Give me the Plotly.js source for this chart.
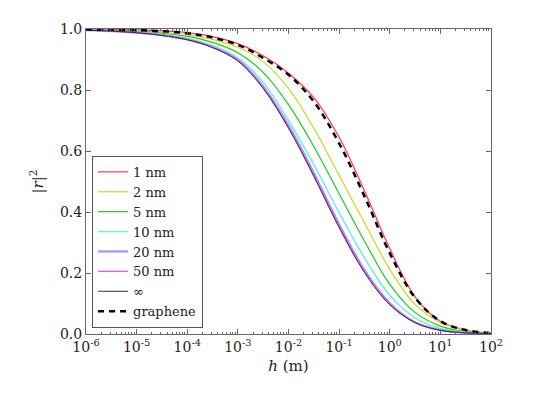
<!DOCTYPE html>
<html>
<head>
<meta charset="utf-8">
<script src="https://cdn.plot.ly/plotly-3.0.1.min.js"></script>
<style>
  html, body { margin: 0; padding: 0; background: #fff; }
  #plot { width: 546px; height: 399px; }
</style>
</head>
<body>
<div id="plot"></div>
<script>
// h in metres, half-decade steps from 1e-6 to 1e2
var h = [1e-6, 3.16e-6, 1e-5, 3.16e-5, 1e-4, 3.16e-4, 1e-3, 3.16e-3,
         1e-2, 3.16e-2, 1e-1, 3.16e-1, 1, 3.16, 10, 31.6, 100];

// |r|^2
var r1nm   = [0.999, 0.998, 0.997, 0.994, 0.988, 0.975, 0.952, 0.912, 0.855, 0.775, 0.645, 0.470, 0.280, 0.122, 0.042, 0.013, 0.003];
var r2nm   = [0.997, 0.996, 0.994, 0.989, 0.981, 0.966, 0.940, 0.893, 0.805, 0.675, 0.520, 0.365, 0.212, 0.097, 0.038, 0.012, 0.003];
var r5nm   = [0.997, 0.995, 0.992, 0.986, 0.976, 0.956, 0.922, 0.858, 0.752, 0.615, 0.460, 0.305, 0.163, 0.071, 0.026, 0.008, 0.002];
var r10nm  = [0.997, 0.994, 0.990, 0.982, 0.969, 0.946, 0.905, 0.825, 0.700, 0.555, 0.398, 0.250, 0.127, 0.053, 0.018, 0.006, 0.002];
var r20nm  = [0.996, 0.993, 0.988, 0.980, 0.966, 0.941, 0.899, 0.812, 0.684, 0.528, 0.360, 0.210, 0.101, 0.039, 0.013, 0.004, 0.001];
var r50nm  = [0.996, 0.993, 0.988, 0.979, 0.965, 0.940, 0.897, 0.808, 0.678, 0.521, 0.353, 0.205, 0.098, 0.038, 0.012, 0.004, 0.001];
var rInf   = [0.996, 0.993, 0.988, 0.979, 0.965, 0.939, 0.895, 0.805, 0.675, 0.517, 0.349, 0.202, 0.096, 0.037, 0.012, 0.004, 0.001];
var rGraph = [0.999, 0.998, 0.996, 0.993, 0.986, 0.972, 0.948, 0.905, 0.850, 0.762, 0.625, 0.452, 0.265, 0.119, 0.042, 0.013, 0.003];

var names = ["1 nm", "2 nm", "5 nm", "10 nm", "20 nm", "50 nm", "\u221e", "graphene"];
var series = [r1nm, r2nm, r5nm, r10nm, r20nm, r50nm, rInf, rGraph];
var colors = ["#ff3355", "#c8dc1e", "#1ccc1c", "#70f0d8", "#9a9af0", "#ff40ff", "#333333", "#000000"];
var widths = [1.2, 1.2, 1.2, 1.5, 2.2, 1.2, 1, 2.5];

var xTickVals = [1e-6, 1e-5, 1e-4, 1e-3, 1e-2, 1e-1, 1, 10, 100];
var xTickText = ["10<sup>-6</sup>", "10<sup>-5</sup>", "10<sup>-4</sup>", "10<sup>-3</sup>",
                 "10<sup>-2</sup>", "10<sup>-1</sup>", "10<sup>0</sup>", "10<sup>1</sup>", "10<sup>2</sup>"];

var data = [];
for (var i = 0; i < series.length; i++) {
  data.push({
    type: "scatter",
    mode: "lines",
    x: h,
    y: series[i],
    name: names[i],
    line: {
      color: colors[i],
      width: widths[i],
      shape: "spline",
      smoothing: 1,
      dash: i == 7 ? "6px,5px" : "solid"
    }
  });
}

var tickFont = { family: "DejaVu Serif", size: 14, color: "#222" };

var layout = {
  width: 546,
  height: 399,
  margin: { l: 86, r: 55, t: 29, b: 65 },
  paper_bgcolor: "#fff",
  plot_bgcolor: "#fff",
  showlegend: true,
  legend: {
    x: 0.015,
    y: 0.02,
    xanchor: "left",
    yanchor: "bottom",
    bgcolor: "#fff",
    bordercolor: "#555",
    borderwidth: 1,
    itemwidth: 30,
    tracegroupgap: 0,
    font: { family: "DejaVu Serif", size: 13, color: "#222" }
  },
  xaxis: {
    type: "log",
    range: [-6, 2],
    tickvals: xTickVals,
    ticktext: xTickText,
    showgrid: false,
    zeroline: false,
    showline: true,
    mirror: "ticks",
    linecolor: "#667",
    linewidth: 1,
    ticks: "inside",
    ticklen: 5,
    tickcolor: "#667",
    tickfont: tickFont,
    minor: { ticks: "inside", ticklen: 2, dtick: "D1", tickcolor: "#667", showgrid: false },
    title: { text: "<i>h</i> (m)", font: { family: "DejaVu Serif", size: 15, color: "#222" }, standoff: 6 }
  },
  yaxis: {
    range: [0, 1],
    dtick: 0.2,
    tickformat: ".1f",
    showgrid: false,
    zeroline: false,
    showline: true,
    mirror: "ticks",
    linecolor: "#667",
    linewidth: 1,
    ticks: "inside",
    ticklen: 5,
    tickcolor: "#667",
    tickfont: tickFont,
    title: { text: "|<i>r</i>|<sup>2</sup>", font: { family: "DejaVu Serif", size: 15, color: "#222" }, standoff: 12 }
  }
};

Plotly.newPlot("plot", data, layout, { displayModeBar: false, staticPlot: true });
</script>
</body>
</html>
